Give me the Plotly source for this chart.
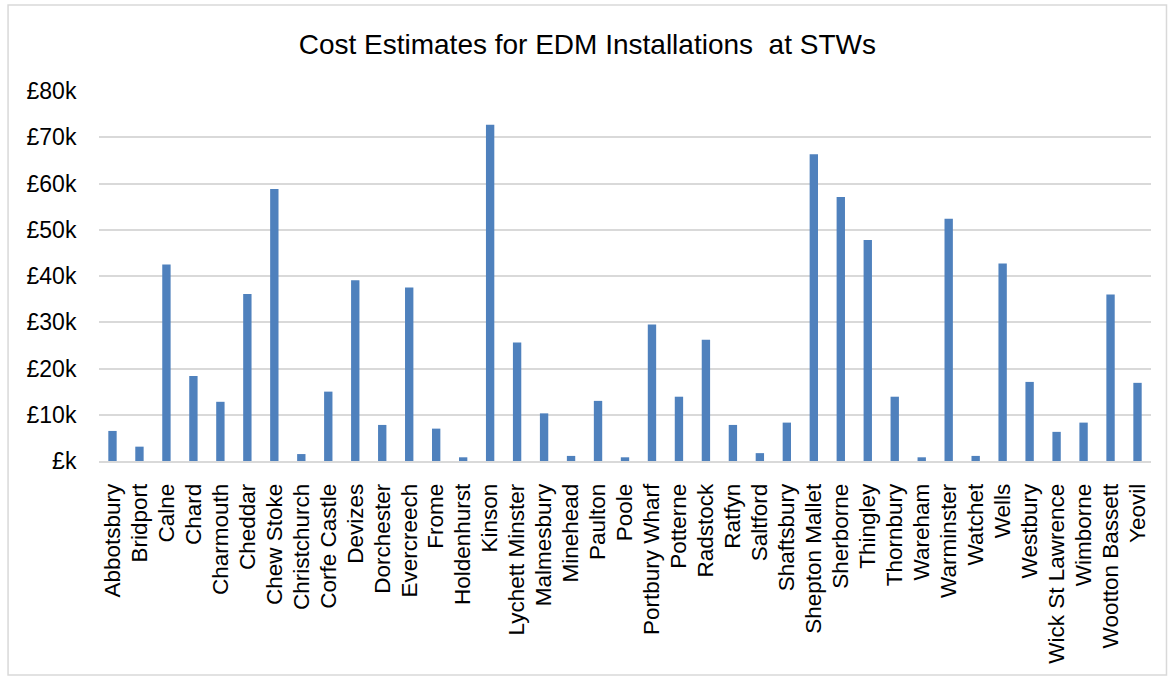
import plotly.graph_objects as go

# Sewage treatment works and estimated EDM installation cost (£k)
sites = [
    "Abbotsbury", "Bridport", "Calne", "Chard", "Charmouth", "Cheddar",
    "Chew Stoke", "Christchurch", "Corfe Castle", "Devizes", "Dorchester",
    "Evercreech", "Frome", "Holdenhurst", "Kinson", "Lychett Minster",
    "Malmesbury", "Minehead", "Paulton", "Poole", "Portbury Wharf",
    "Potterne", "Radstock", "Ratfyn", "Saltford", "Shaftsbury",
    "Shepton Mallet", "Sherborne", "Thingley", "Thornbury", "Wareham",
    "Warminster", "Watchet", "Wells", "Westbury", "Wick St Lawrence",
    "Wimborne", "Wootton Bassett", "Yeovil",
]
cost_k = [
    6.5, 3.1, 42.5, 18.4, 12.8, 36.1,
    58.8, 1.5, 15.0, 39.1, 7.8,
    37.5, 7.0, 0.8, 72.7, 25.6,
    10.3, 1.1, 13.0, 0.8, 29.5,
    13.9, 26.2, 7.8, 1.7, 8.3,
    66.3, 57.1, 47.8, 13.9, 0.8,
    52.4, 1.1, 42.7, 17.1, 6.3,
    8.3, 36.0, 16.9,
]
y_ticks = [0, 10, 20, 30, 40, 50, 60, 70, 80]
y_tick_labels = ["£k", "£10k", "£20k", "£30k", "£40k", "£50k", "£60k", "£70k", "£80k"]

W, H = 1170, 681
ML, MR, MT, MB = 99, 18.5, 91, 220
FONT = "Liberation Sans, Arial, sans-serif"
GRID = "#d9d9d9"

fig = go.Figure(
    go.Bar(
        x=sites,
        y=cost_k,
        marker=dict(color="#4f81bd", line=dict(width=0)),
        hovertemplate="%{x}: £%{y}k<extra></extra>",
    )
)

# outer chart frame, expressed in paper units relative to the plot area
pw = W - ML - MR
ph = H - MT - MB
def px_x(v):
    return (v - ML) / pw
def px_y(v):
    return (H - MB - v) / ph

fig.add_shape(
    type="rect", xref="paper", yref="paper",
    x0=px_x(8), x1=px_x(1167), y0=px_y(675), y1=px_y(5),
    line=dict(color=GRID, width=1.5), fillcolor="rgba(0,0,0,0)", layer="below",
)

fig.update_layout(
    width=W, height=H,
    margin=dict(l=ML, r=MR, t=MT, b=MB, pad=0),
    paper_bgcolor="white", plot_bgcolor="white",
    bargap=0.69,
    showlegend=False,
    font=dict(family=FONT, size=23, color="#000000"),
    title=dict(
        text="Cost Estimates for EDM Installations  at STWs",
        font=dict(family=FONT, size=28, color="#000000"),
        x=0.502, xref="container", xanchor="center",
        y=1 - 44 / H, yref="container", yanchor="middle",
    ),
    xaxis=dict(
        type="category",
        tickmode="array", tickvals=sites, ticktext=sites,
        tickangle=-90,
        tickfont=dict(size=22.5),
        showgrid=False,
        showline=True, linecolor=GRID, linewidth=1.5,
        ticks="outside", ticklen=12, tickcolor="rgba(0,0,0,0)",
        range=[-0.5, len(sites) - 0.5],
        fixedrange=True,
    ),
    yaxis=dict(
        range=[0, 80],
        tickvals=y_ticks, ticktext=y_tick_labels,
        tickfont=dict(size=23),
        showgrid=True, gridcolor=GRID, gridwidth=1.5,
        zeroline=False, showline=False,
        ticks="outside", ticklen=17, tickcolor="rgba(0,0,0,0)",
        fixedrange=True,
    ),
)

fig.write_html("out.html")
